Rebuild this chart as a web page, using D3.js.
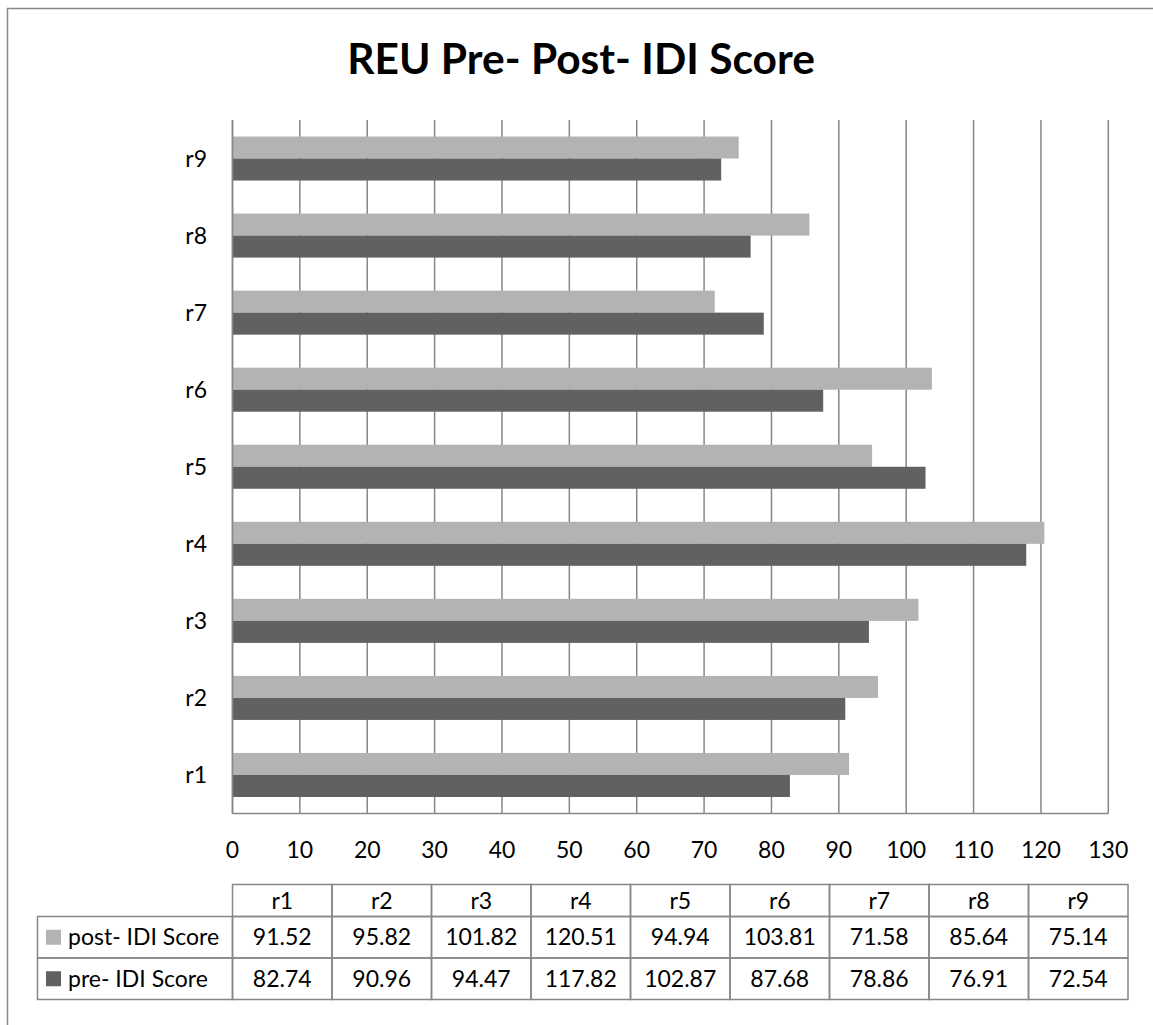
<!DOCTYPE html>
<html>
<head>
<meta charset="utf-8">
<script src="https://cdn.jsdelivr.net/npm/d3@7"></script>
<style>
  html, body { margin: 0; padding: 0; background: #fff; }
  svg { display: block; }
  text { font-family: Lato, "Open Sans", sans-serif; fill: #000; }
</style>
</head>
<body>
<svg id="chart" width="1153" height="1025"></svg>
<script>
// Participants and their IDI scores
const categories = ["r1", "r2", "r3", "r4", "r5", "r6", "r7", "r8", "r9"];
const postScores = [91.52, 95.82, 101.82, 120.51, 94.94, 103.81, 71.58, 85.64, 75.14];
const preScores  = [82.74, 90.96, 94.47, 117.82, 102.87, 87.68, 78.86, 76.91, 72.54];
const seriesNames = ["post- IDI Score", "pre- IDI Score"];
const xTicks = [0, 10, 20, 30, 40, 50, 60, 70, 80, 90, 100, 110, 120, 130];
const titleText = "REU Pre- Post- IDI Score";

const series = [
  { key: "post", name: seriesNames[0], values: postScores, color: "#b3b3b3" },
  { key: "pre",  name: seriesNames[1], values: preScores,  color: "#616161" }
];

const svg = d3.select("#chart");
const gridColor = "#878787";
const fontSize = 23;

// frame around the whole chart
svg.append("rect")
  .attr("x", 7.5).attr("y", 8.5)
  .attr("width", 1200).attr("height", 1100)
  .attr("fill", "#fff")
  .attr("stroke", gridColor).attr("stroke-width", 1.5);

// title
svg.append("text")
  .attr("x", 581).attr("y", 74)
  .attr("text-anchor", "middle")
  .attr("font-size", 42.5)
  .attr("font-weight", "bold")
  .text(titleText);

// scales
const plot = { left: 232.5, right: 1108.3, top: 120, bottom: 813.5 };
const x = d3.scaleLinear().domain([0, 130]).range([plot.left, plot.right]);
const y = d3.scaleBand().domain(categories).range([plot.bottom, plot.top]);
const ySeries = d3.scaleBand()
  .domain(series.map(s => s.key))
  .range([0, y.bandwidth()])
  .paddingInner(0)
  .paddingOuter(0.75);

// vertical gridlines
svg.append("g").selectAll("line")
  .data(xTicks)
  .join("line")
  .attr("x1", d => x(d)).attr("x2", d => x(d))
  .attr("y1", plot.top).attr("y2", plot.bottom)
  .attr("stroke", gridColor).attr("stroke-width", 1.5);

// category axis baseline
svg.append("line")
  .attr("x1", plot.left).attr("x2", plot.right)
  .attr("y1", plot.bottom).attr("y2", plot.bottom)
  .attr("stroke", gridColor).attr("stroke-width", 1.5);

// bars
series.forEach(s => {
  svg.append("g").selectAll("rect")
    .data(categories.map((c, i) => ({ cat: c, value: s.values[i] })))
    .join("rect")
    .attr("x", x(0))
    .attr("y", d => y(d.cat) + ySeries(s.key))
    .attr("width", d => x(d.value) - x(0))
    .attr("height", ySeries.bandwidth())
    .attr("fill", s.color);
});

// redraw axis line on top of bars
svg.append("line")
  .attr("x1", plot.left).attr("x2", plot.left)
  .attr("y1", plot.top).attr("y2", plot.bottom)
  .attr("stroke", gridColor).attr("stroke-width", 1.5);

// category labels
svg.append("g").selectAll("text")
  .data(categories)
  .join("text")
  .attr("x", 207)
  .attr("y", d => y(d) + y.bandwidth() / 2)
  .attr("dy", "0.35em")
  .attr("text-anchor", "end")
  .attr("font-size", fontSize)
  .text(d => d);

// value axis labels
svg.append("g").selectAll("text")
  .data(xTicks)
  .join("text")
  .attr("x", d => x(d))
  .attr("y", 850)
  .attr("dy", "0.35em")
  .attr("text-anchor", "middle")
  .attr("font-size", fontSize)
  .text(d => d);

// data table
const table = { left: 37.5, colLeft: 232.5, colRight: 1128, headTop: 884.5, headBottom: 916.5, rowH: 41.5 };
const col = d3.scaleBand().domain(categories).range([table.colLeft, table.colRight]);
const fmt = d3.format(".2f");
const tg = svg.append("g");

// header cells
tg.selectAll("rect.head")
  .data(categories)
  .join("rect")
  .attr("class", "head")
  .attr("x", d => col(d)).attr("y", table.headTop)
  .attr("width", col.bandwidth()).attr("height", table.headBottom - table.headTop)
  .attr("fill", "none").attr("stroke", gridColor).attr("stroke-width", 1.5);

tg.selectAll("text.head")
  .data(categories)
  .join("text")
  .attr("class", "head")
  .attr("x", d => col(d) + col.bandwidth() / 2)
  .attr("y", (table.headTop + table.headBottom) / 2)
  .attr("dy", "0.35em")
  .attr("text-anchor", "middle")
  .attr("font-size", fontSize)
  .text(d => d);

series.forEach((s, r) => {
  const top = table.headBottom + r * table.rowH;
  const mid = top + table.rowH / 2;
  // legend cell
  tg.append("rect")
    .attr("x", table.left).attr("y", top)
    .attr("width", table.colLeft - table.left).attr("height", table.rowH)
    .attr("fill", "none").attr("stroke", gridColor).attr("stroke-width", 1.5);
  tg.append("rect")
    .attr("x", 46).attr("y", mid - 7.5)
    .attr("width", 15).attr("height", 15)
    .attr("fill", s.color);
  tg.append("text")
    .attr("x", 68).attr("y", mid)
    .attr("dy", "0.35em")
    .attr("font-size", fontSize)
    .text(s.name);
  // value cells
  tg.append("g").selectAll("rect")
    .data(categories)
    .join("rect")
    .attr("x", d => col(d)).attr("y", top)
    .attr("width", col.bandwidth()).attr("height", table.rowH)
    .attr("fill", "none").attr("stroke", gridColor).attr("stroke-width", 1.5);
  tg.append("g").selectAll("text")
    .data(categories.map((c, i) => ({ cat: c, value: s.values[i] })))
    .join("text")
    .attr("x", d => col(d.cat) + col.bandwidth() / 2)
    .attr("y", mid)
    .attr("dy", "0.35em")
    .attr("text-anchor", "middle")
    .attr("font-size", fontSize)
    .text(d => fmt(d.value));
});
</script>
</body>
</html>
